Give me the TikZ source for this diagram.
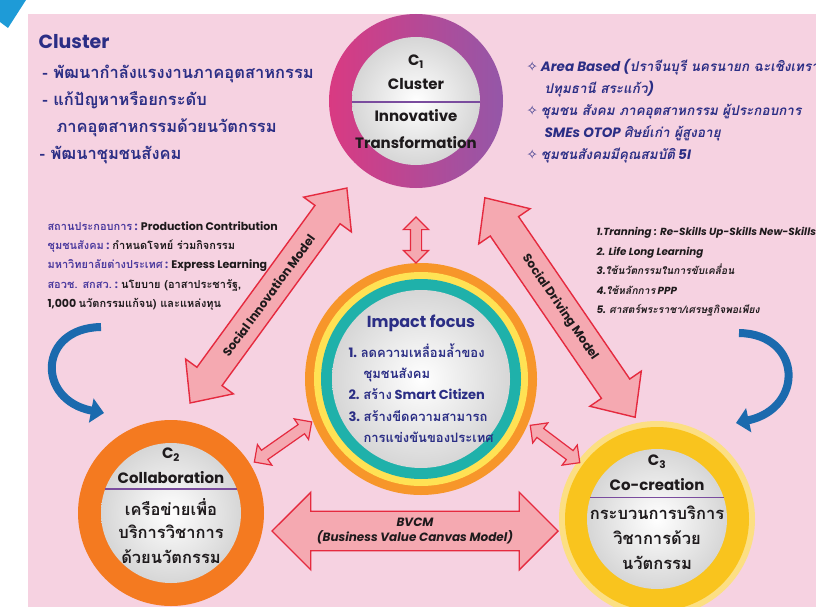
\documentclass[tikz,border=0pt]{standalone}
\usepackage{fontspec}
\setmainfont{Poppins}
\newfontfamily\thf[Script=Thai]{Loma}
\newfontfamily\thfi[Script=Thai, FakeSlant=0.2]{Loma}
\newfontfamily\symf{DejaVu Sans}
\usetikzlibrary{shapes.arrows, arrows.meta, calc}
\newcommand{\tha}[1]{{\thf #1}}
\newcommand{\thi}[1]{{\thfi\upshape #1}}
\newcommand{\sparkle}{{\symf\upshape\char"2727}}
\definecolor{bgpink}{HTML}{F6D2E1}
\definecolor{navy}{HTML}{2B2E85}
\definecolor{labpurple}{HTML}{4B3A9E}
\definecolor{ink}{HTML}{1E1A1C}
\definecolor{magenta1}{HTML}{D93A82}
\definecolor{purple1}{HTML}{9457A8}
\definecolor{divline}{HTML}{7A4C9E}
\definecolor{orange2}{HTML}{F47A20}
\definecolor{yellow3}{HTML}{F9C41E}
\definecolor{ringor}{HTML}{F7962A}
\definecolor{ringye}{HTML}{FFE254}
\definecolor{ringteal}{HTML}{1FB1AA}
\definecolor{arrfill}{HTML}{F5A9B1}
\definecolor{arrline}{HTML}{E52A3F}
\definecolor{swirl}{HTML}{1B6AAE}
\definecolor{cornerblue}{HTML}{1E9BD7}
\tikzset{
  ring/.style={circle, inner sep=0pt, draw=none},
  core/.style={circle, inner sep=0pt, inner color=white, outer color=black!16},
  divider/.style={draw=divline, line width=1.3pt},
  ctext/.style={text=ink, font=\bfseries\fontsize{15pt}{18pt}\selectfont},
  cthai/.style={text=ink, font=\thf\bfseries\fontsize{16.5pt}{19pt}\selectfont},
  bigarr/.style={double arrow, draw=arrline, line width=1.4pt, fill=arrfill,
                 text=ink, align=center},
  smallarr/.style={double arrow, draw=arrline, line width=1.2pt, fill=arrfill,
                   inner sep=0pt, inner ysep=5pt, double arrow head extend=7pt,
                   double arrow tip angle=90},
  swirlarr/.style={draw=swirl, line width=8pt, -{Triangle[length=13pt, width=24pt]}},
  navytext/.style={text=navy, align=left, anchor=north west},
}
\begin{document}
\begin{tikzpicture}[x=1pt, y=-1pt]
  \useasboundingbox (0,0) rectangle (816,607);
  \fill[white] (0,0) rectangle (816,607);
  \fill[bgpink] (28,14) rectangle (816,607);
  \fill[cornerblue] (0,0) -- (26,0) -- (8,28) -- (0,22) -- cycle;

  % blue swirls
  \coordinate (swlA) at (101,327);
  \coordinate (swlB) at (104,413);
  \coordinate (swrA) at (739,333);
  \coordinate (swrB) at (736,423);
  \draw[swirlarr] (swlA) .. controls (38,328) and (36,400) .. (swlB);
  \draw[swirlarr] (swrA) .. controls (802,334) and (805,408) .. (swrB);

  % circles
  \node[ring, minimum size=174pt, left color=magenta1, right color=purple1] (c1) at (416,101) {};
  \node[core, minimum size=128pt] (c1core) at (c1) {};
  \node[ring, minimum size=232pt, fill=ringor] (hub) at (421,379) {};
  \node[ring, minimum size=214pt, fill=ringye] (hubye) at (hub) {};
  \node[ring, minimum size=200pt, fill=ringteal] (hubtl) at (hub) {};
  \node[core, minimum size=178pt] (hubcore) at (hub) {};
  \node[ring, minimum size=186pt, fill=orange2] (c2) at (171,513) {};
  \node[core, minimum size=140pt] (c2core) at (c2) {};
  \node[ring, minimum size=196pt, fill=yellow3!55] (c3glow) at (657,519) {};
  \node[ring, minimum size=184pt, fill=yellow3] (c3) at (c3glow) {};
  \node[core, minimum size=140pt] (c3core) at (c3) {};

  \draw[divider] (c1core.181) -- (c1core.-1);
  \draw[divider] (c2core.160) -- (c2core.20);
  \draw[divider] (c3core.162) -- (c3core.18);

  % big arrows
  \node[bigarr, minimum height=266pt, rotate=53.9, inner ysep=10pt,
        double arrow head extend=14pt, double arrow tip angle=84,
        font=\bfseries\fontsize{12pt}{15pt}\selectfont] (sim) at (268.5,295.5)
    {Social Innovation Model};
  \node[bigarr, minimum height=266pt, rotate=-55.6, inner ysep=10pt,
        double arrow head extend=14pt, double arrow tip angle=84,
        font=\bfseries\fontsize{12pt}{15pt}\selectfont] (sdm) at (560,307.5)
    {Social Driving Model};
  \node[bigarr, minimum height=286pt, inner ysep=6pt,
        double arrow head extend=19pt, double arrow tip angle=90,
        font=\bfseries\itshape\fontsize{12pt}{15pt}\selectfont] (bvcm) at (415,531)
    {BVCM\\(Business Value Canvas Model)};
  \node[smallarr, minimum height=46pt, rotate=90] (a1) at (416,240) {};
  \node[smallarr, minimum height=70pt, rotate=35] (a2) at (283,442) {};
  \node[smallarr, minimum height=62pt, rotate=-37] (a3) at (555,444) {};

  % circle texts
  \node[ctext] (c1num) at (416,62) {C\textsubscript{1}};
  \node[ctext] (c1name) at (416,84) {Cluster};
  \node[ctext] (c1a) at (416,116) {Innovative};
  \node[ctext] (c1b) at (416,143) {Transformation};
  \node[ctext] (c2num) at (171,455) {C\textsubscript{2}};
  \node[ctext] (c2name) at (171,478) {Collaboration};
  \node[cthai] (c2a) at (171,507) {เครือข่ายเพื่อ};
  \node[cthai] (c2b) at (171,532) {บริการวิชาการ};
  \node[cthai] (c2c) at (171,557) {ด้วยนวัตกรรม};
  \node[ctext] (c3num) at (657,462) {C\textsubscript{3}};
  \node[ctext] (c3name) at (657,485) {Co-creation};
  \node[cthai] (c3a) at (657,513) {กระบวนการบริการ};
  \node[cthai] (c3b) at (657,538) {วิชาการด้วย};
  \node[cthai] (c3c) at (657,563) {นวัตกรรม};

  % impact focus
  \node[text=navy, font=\bfseries\fontsize{16pt}{19pt}\selectfont] (imphead) at (421,323)
    {Impact focus};
  \node[navytext, font=\bfseries\fontsize{13pt}{21.3pt}\selectfont] (implist) at (345,340)
    {1. \tha{ลดความเหลื่อมล้ำของ}\\
     \hspace*{15pt}\tha{ชุมชนสังคม}\\
     2. \tha{สร้าง} Smart Citizen\\
     3. \tha{สร้างขีดความสามารถ}\\
     \hspace*{15pt}\tha{การแข่งขันของประเทศ}};

  % side notes
  \node[navytext, font=\bfseries\fontsize{19pt}{22pt}\selectfont] (clhead) at (35,31) {Cluster};
  \node[navytext, font=\thf\bfseries\fontsize{16.5pt}{27pt}\selectfont] (cllist) at (36,62)
    {\,- พัฒนากำลังแรงงานภาคอุตสาหกรรม\\
     \,- แก้ปัญหาหรือยกระดับ\\
     \hspace*{17pt}ภาคอุตสาหกรรมด้วยนวัตกรรม\\
     - พัฒนาชุมชนสังคม};
  \node[navytext, font=\bfseries\itshape\fontsize{13.5pt}{22pt}\selectfont] (area) at (523,56)
    {\sparkle\ Area Based (\thi{ปราจีนบุรี นครนายก ฉะเชิงเทรา}\\
     \hspace*{18pt}\thi{ปทุมธานี สระแก้ว})\\
     \sparkle\ \thi{ชุมชน สังคม ภาคอุตสาหกรรม ผู้ประกอบการ}\\
     \hspace*{18pt}SMEs OTOP \thi{ศิษย์เก่า ผู้สูงอายุ}\\
     \sparkle\ \thi{ชุมชนสังคมมีคุณสมบัติ} 5I};
  \node[text=ink, align=left, anchor=north west,
        font=\bfseries\fontsize{11pt}{19.3pt}\selectfont] (partners) at (44,218)
    {{\color{labpurple}\tha{สถานประกอบการ} :} Production Contribution\\
     {\color{labpurple}\tha{ชุมชนสังคม} :} \tha{กำหนดโจทย์ ร่วมกิจกรรม}\\
     {\color{labpurple}\tha{มหาวิทยาลัยต่างประเทศ} :} Express Learning\\
     {\color{labpurple}\tha{สอวช. สกสว.} :} \tha{นโยบาย (อาสาประชารัฐ,}\\
     1,000 \tha{นวัตกรรมแก้จน) และแหล่งทุน}};
  \node[text=ink, align=left, anchor=north west,
        font=\bfseries\itshape\fontsize{10.3pt}{19.5pt}\selectfont] (drivers) at (593,224)
    {1.Tranning : Re-Skills Up-Skills New-Skills\\
     2. Life Long Learning\\
     3.\thi{ใช้นวัตกรรมในการขับเคลื่อน}\\
     4.\thi{ใช้หลักการ} PPP\\
     5. \thi{ศาสตร์พระราชา/เศรษฐกิจพอเพียง}};
\end{tikzpicture}
\end{document}
